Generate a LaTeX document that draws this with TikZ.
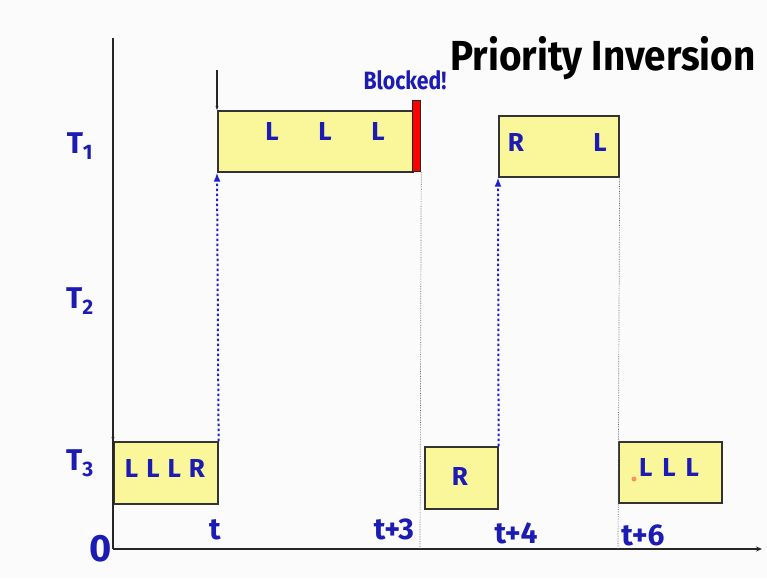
\documentclass[tikz,border=0pt]{standalone}
\usepackage{fontspec}
\setmainfont{Fira Sans}
\usetikzlibrary{arrows.meta}
\definecolor{tblue}{HTML}{1C1CB4}
\definecolor{abl}{HTML}{2020D0}
\definecolor{byellow}{HTML}{FAF79A}
\definecolor{bgc}{HTML}{FBFBFB}
\tikzset{
  box/.style={draw=black!80, line width=1.6pt, fill=byellow, anchor=north west, inner sep=0pt},
  blu/.style={text=tblue, font=\bfseries, inner sep=0pt},
  ltr/.style={blu, font=\fontsize{26}{26}\selectfont\bfseries},
  tick/.style={blu, font=\fontsize{30}{30}\selectfont\bfseries, anchor=base},
  tlab/.style={blu, font=\fontsize{30}{30}\selectfont\bfseries},
  axis/.style={draw=black!85, line width=1.1pt},
  wake/.style={draw=abl, line width=2pt, dash pattern=on 2.5pt off 2.5pt, -{Latex[length=9pt,width=7pt]}},
  guide/.style={draw=black!60, line width=0.7pt, densely dotted},
}
\begin{document}
\begin{tikzpicture}[x=1pt,y=-1pt]
\fill[bgc] (0,0) rectangle (767,578);
\useasboundingbox (0,0) rectangle (767,578);
% boxes
\node[box, minimum width=195pt, minimum height=61pt] (t1a) at (217,110) {};
\node[draw=black!85, line width=1.2pt, fill=red, anchor=north west, minimum width=8pt, minimum height=71pt, inner sep=0pt] (blk) at (412,100) {};
\node[box, minimum width=120pt, minimum height=61pt] (t1b) at (498,115) {};
\node[box, minimum width=104pt, minimum height=62pt] (t3a) at (113,441) {};
\node[box, minimum width=73pt, minimum height=62pt] (t3b) at (424,446) {};
\node[box, minimum width=103pt, minimum height=61pt] (t3c) at (618,441) {};
% axes
\coordinate (ytop) at (113,38);
\coordinate (orig) at (113,549);
\coordinate (xend) at (762,549);
\coordinate (t1top) at (217,70);
\draw[axis] (ytop) -- (orig);
\draw[axis, -{Stealth[length=4pt,width=3pt]}] (ytop) -- (t3a.north west);
\draw[axis, -{Stealth[length=6pt,width=5pt]}] (orig) -- (xend);
\draw[axis, -{Stealth[length=4pt,width=3pt]}] (t1top) -- (t1a.north west);
% guides
\coordinate (g3) at (420,549);
\coordinate (g6) at (618,549);
\draw[guide] (blk.south east) -- (g3);
\draw[guide] (t1b.south east) -- (g6);
% wake-up arrows
\draw[wake] (t3a.north east) -- (t1a.south west);
\draw[wake] (t3b.north east) -- (t1b.south west);
% letters
\node[ltr] (l1) at (272,131) {L};
\node[ltr] (l2) at (325,131) {L};
\node[ltr] (l3) at (378,131) {L};
\node[ltr] (r1) at (516,142) {R};
\node[ltr] (l4) at (600,142) {L};
\node[ltr] (s3a) at (165,468) {L\hspace{8pt}L\hspace{8pt}L\hspace{8pt}R};
\node[ltr] (s3b) at (460,476) {R};
\node[ltr] (s3c) at (669,467) {L\hspace{10pt}L\hspace{10pt}L};
\fill[red!70, opacity=0.6] (634,479) circle (2.5pt);
% row labels
\node[tlab] (T1) at (80,146) {T\textsubscript{1}};
\node[tlab] (T2) at (80,301) {T\textsubscript{2}};
\node[tlab] (T3) at (80,463) {T\textsubscript{3}};
% ticks
\node[blu, font=\fontsize{38}{38}\selectfont\bfseries, anchor=base] (zero) at (101,561) {0};
\node[tick] (tt) at (215,539) {t};
\node[tick] (t3) at (394,539) {t+3};
\node[tick] (t4) at (516,543) {t+4};
\node[tick] (t6) at (643,545) {t+6};
% titles
\node[blu, font=\fontsize{25}{25}\selectfont\bfseries, xscale=0.85] (blocked) at (405,80) {Blocked!};
\node[inner sep=0pt, font=\fontsize{42}{42}\selectfont\bfseries, xscale=0.92] (title) at (603,58) {Priority Inversion};
\end{tikzpicture}
\end{document}
